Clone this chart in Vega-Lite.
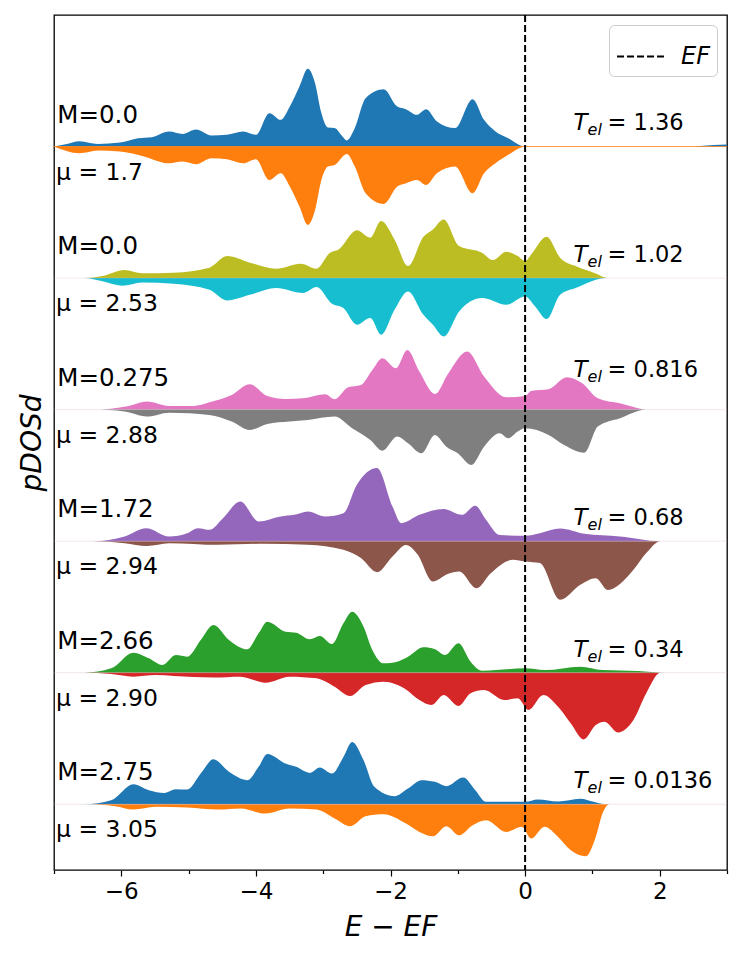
{
  "$schema": "https://vega.github.io/schema/vega-lite/v6.json",
  "description": "pDOS_d spin up / spin down for six electronic temperatures",
  "width": 673,
  "height": 855,
  "autosize": {"type": "none"},
  "padding": {"left": 54, "top": 15, "right": 20, "bottom": 91},
  "datasets": {
    "dos": [
      {"p":1,"s":"u","e":-7,"v":0},{"p":1,"s":"u","e":-6.81,"v":0.2},{"p":1,"s":"u","e":-6.62,"v":0.41},{"p":1,"s":"u","e":-6.35,"v":0.2},{"p":1,"s":"u","e":-6.02,"v":0.3},{"p":1,"s":"u","e":-5.75,"v":0.63},{"p":1,"s":"u","e":-5.55,"v":0.71},{"p":1,"s":"u","e":-5.29,"v":1.14},{"p":1,"s":"u","e":-5.09,"v":0.96},{"p":1,"s":"u","e":-4.89,"v":1.29},{"p":1,"s":"u","e":-4.66,"v":0.84},{"p":1,"s":"u","e":-4.43,"v":0.89},{"p":1,"s":"u","e":-4.19,"v":1.14},{"p":1,"s":"u","e":-4.0,"v":0.89},{"p":1,"s":"u","e":-3.8,"v":2.54},{"p":1,"s":"u","e":-3.63,"v":2.03},{"p":1,"s":"u","e":-3.5,"v":3.0},{"p":1,"s":"u","e":-3.35,"v":4.6},{"p":1,"s":"u","e":-3.23,"v":5.91},{"p":1,"s":"u","e":-3.12,"v":4.8},{"p":1,"s":"u","e":-3.03,"v":2.6},{"p":1,"s":"u","e":-2.93,"v":1.45},{"p":1,"s":"u","e":-2.83,"v":1.4},{"p":1,"s":"u","e":-2.72,"v":0.8},{"p":1,"s":"u","e":-2.65,"v":0.46},{"p":1,"s":"u","e":-2.53,"v":1.4},{"p":1,"s":"u","e":-2.37,"v":3.68},{"p":1,"s":"u","e":-2.1,"v":4.36},{"p":1,"s":"u","e":-1.9,"v":3.04},{"p":1,"s":"u","e":-1.77,"v":2.84},{"p":1,"s":"u","e":-1.61,"v":2.41},{"p":1,"s":"u","e":-1.47,"v":2.84},{"p":1,"s":"u","e":-1.31,"v":1.9},{"p":1,"s":"u","e":-1.04,"v":1.4},{"p":1,"s":"u","e":-0.78,"v":3.6},{"p":1,"s":"u","e":-0.61,"v":2.03},{"p":1,"s":"u","e":-0.44,"v":1.14},{"p":1,"s":"u","e":-0.25,"v":0.63},{"p":1,"s":"u","e":-0.05,"v":0.05},{"p":1,"s":"u","e":0,"v":0},{"p":1,"s":"u","e":2.4,"v":0},{"p":1,"s":"u","e":2.8,"v":0.12},{"p":1,"s":"u","e":3,"v":0.15},

      {"p":1,"s":"d","e":-7,"v":0},{"p":1,"s":"d","e":-6.62,"v":-0.51},{"p":1,"s":"d","e":-6.35,"v":-0.3},{"p":1,"s":"d","e":-6.02,"v":-0.38},{"p":1,"s":"d","e":-5.69,"v":-0.71},{"p":1,"s":"d","e":-5.29,"v":-1.27},{"p":1,"s":"d","e":-5.09,"v":-1.14},{"p":1,"s":"d","e":-4.89,"v":-1.34},{"p":1,"s":"d","e":-4.66,"v":-0.89},{"p":1,"s":"d","e":-4.43,"v":-0.96},{"p":1,"s":"d","e":-4.19,"v":-1.27},{"p":1,"s":"d","e":-4.0,"v":-0.96},{"p":1,"s":"d","e":-3.8,"v":-2.54},{"p":1,"s":"d","e":-3.63,"v":-2.03},{"p":1,"s":"d","e":-3.5,"v":-3.0},{"p":1,"s":"d","e":-3.35,"v":-4.6},{"p":1,"s":"d","e":-3.23,"v":-5.96},{"p":1,"s":"d","e":-3.12,"v":-4.8},{"p":1,"s":"d","e":-3.03,"v":-2.6},{"p":1,"s":"d","e":-2.93,"v":-1.52},{"p":1,"s":"d","e":-2.83,"v":-1.4},{"p":1,"s":"d","e":-2.65,"v":-0.56},{"p":1,"s":"d","e":-2.53,"v":-1.52},{"p":1,"s":"d","e":-2.37,"v":-3.55},{"p":1,"s":"d","e":-2.1,"v":-4.36},{"p":1,"s":"d","e":-1.9,"v":-3.04},{"p":1,"s":"d","e":-1.77,"v":-2.79},{"p":1,"s":"d","e":-1.61,"v":-2.54},{"p":1,"s":"d","e":-1.47,"v":-2.92},{"p":1,"s":"d","e":-1.31,"v":-2.03},{"p":1,"s":"d","e":-1.04,"v":-1.52},{"p":1,"s":"d","e":-0.78,"v":-3.55},{"p":1,"s":"d","e":-0.61,"v":-2.03},{"p":1,"s":"d","e":-0.44,"v":-1.27},{"p":1,"s":"d","e":-0.25,"v":-0.63},{"p":1,"s":"d","e":-0.05,"v":-0.05},{"p":1,"s":"d","e":0,"v":0},{"p":1,"s":"d","e":3,"v":0},

      {"p":2,"s":"u","e":-7,"v":0},{"p":2,"s":"u","e":-6.55,"v":0},{"p":2,"s":"u","e":-6.28,"v":0.15},{"p":2,"s":"u","e":-5.95,"v":0.61},{"p":2,"s":"u","e":-5.69,"v":0.36},{"p":2,"s":"u","e":-5.22,"v":0.41},{"p":2,"s":"u","e":-4.69,"v":0.79},{"p":2,"s":"u","e":-4.43,"v":1.67},{"p":2,"s":"u","e":-4.09,"v":1.17},{"p":2,"s":"u","e":-3.7,"v":0.71},{"p":2,"s":"u","e":-3.33,"v":1.09},{"p":2,"s":"u","e":-3.1,"v":0.71},{"p":2,"s":"u","e":-2.9,"v":1.93},{"p":2,"s":"u","e":-2.77,"v":2.18},{"p":2,"s":"u","e":-2.5,"v":3.63},{"p":2,"s":"u","e":-2.3,"v":3.07},{"p":2,"s":"u","e":-2.14,"v":4.34},{"p":2,"s":"u","e":-1.94,"v":2.94},{"p":2,"s":"u","e":-1.74,"v":0.91},{"p":2,"s":"u","e":-1.51,"v":3.15},{"p":2,"s":"u","e":-1.37,"v":3.7},{"p":2,"s":"u","e":-1.21,"v":4.46},{"p":2,"s":"u","e":-0.98,"v":2.44},{"p":2,"s":"u","e":-0.64,"v":1.93},{"p":2,"s":"u","e":-0.48,"v":1.37},{"p":2,"s":"u","e":-0.28,"v":2.0},{"p":2,"s":"u","e":-0.11,"v":1.67},{"p":2,"s":"u","e":0,"v":1.29},{"p":2,"s":"u","e":0.09,"v":1.8},{"p":2,"s":"u","e":0.32,"v":3.15},{"p":2,"s":"u","e":0.52,"v":1.55},{"p":2,"s":"u","e":0.75,"v":0.91},{"p":2,"s":"u","e":1.02,"v":0.41},{"p":2,"s":"u","e":1.25,"v":0},{"p":2,"s":"u","e":3,"v":0},

      {"p":2,"s":"d","e":-7,"v":0},{"p":2,"s":"d","e":-6.55,"v":0},{"p":2,"s":"d","e":-6.28,"v":-0.25},{"p":2,"s":"d","e":-5.99,"v":-0.58},{"p":2,"s":"d","e":-5.69,"v":-0.33},{"p":2,"s":"d","e":-5.22,"v":-0.43},{"p":2,"s":"d","e":-4.69,"v":-0.89},{"p":2,"s":"d","e":-4.43,"v":-1.7},{"p":2,"s":"d","e":-4.09,"v":-1.27},{"p":2,"s":"d","e":-3.7,"v":-0.76},{"p":2,"s":"d","e":-3.3,"v":-1.14},{"p":2,"s":"d","e":-3.1,"v":-0.68},{"p":2,"s":"d","e":-2.87,"v":-1.95},{"p":2,"s":"d","e":-2.7,"v":-2.28},{"p":2,"s":"d","e":-2.5,"v":-3.55},{"p":2,"s":"d","e":-2.3,"v":-3.04},{"p":2,"s":"d","e":-2.14,"v":-4.31},{"p":2,"s":"d","e":-1.94,"v":-2.41},{"p":2,"s":"d","e":-1.74,"v":-1.02},{"p":2,"s":"d","e":-1.51,"v":-2.79},{"p":2,"s":"d","e":-1.37,"v":-3.55},{"p":2,"s":"d","e":-1.21,"v":-4.44},{"p":2,"s":"d","e":-0.98,"v":-2.54},{"p":2,"s":"d","e":-0.64,"v":-1.52},{"p":2,"s":"d","e":-0.28,"v":-2.03},{"p":2,"s":"d","e":0,"v":-1.4},{"p":2,"s":"d","e":0.15,"v":-2.16},{"p":2,"s":"d","e":0.32,"v":-3.12},{"p":2,"s":"d","e":0.52,"v":-1.27},{"p":2,"s":"d","e":0.75,"v":-0.76},{"p":2,"s":"d","e":1.21,"v":0},{"p":2,"s":"d","e":3,"v":0},

      {"p":3,"s":"u","e":-7,"v":0},{"p":3,"s":"u","e":-6.42,"v":0},{"p":3,"s":"u","e":-5.89,"v":0.28},{"p":3,"s":"u","e":-5.62,"v":0.61},{"p":3,"s":"u","e":-5.29,"v":0.28},{"p":3,"s":"u","e":-4.93,"v":0.28},{"p":3,"s":"u","e":-4.69,"v":0.56},{"p":3,"s":"u","e":-4.36,"v":1.12},{"p":3,"s":"u","e":-4.09,"v":1.93},{"p":3,"s":"u","e":-3.83,"v":1.04},{"p":3,"s":"u","e":-3.56,"v":0.81},{"p":3,"s":"u","e":-3.3,"v":0.86},{"p":3,"s":"u","e":-2.97,"v":1.17},{"p":3,"s":"u","e":-2.83,"v":0.79},{"p":3,"s":"u","e":-2.63,"v":1.7},{"p":3,"s":"u","e":-2.44,"v":1.88},{"p":3,"s":"u","e":-2.27,"v":3.02},{"p":3,"s":"u","e":-2.12,"v":3.91},{"p":3,"s":"u","e":-1.92,"v":3.15},{"p":3,"s":"u","e":-1.75,"v":4.54},{"p":3,"s":"u","e":-1.57,"v":2.89},{"p":3,"s":"u","e":-1.34,"v":1.19},{"p":3,"s":"u","e":-1.14,"v":2.77},{"p":3,"s":"u","e":-0.86,"v":4.41},{"p":3,"s":"u","e":-0.61,"v":2.51},{"p":3,"s":"u","e":-0.28,"v":0.94},{"p":3,"s":"u","e":0,"v":1.04},{"p":3,"s":"u","e":0.09,"v":1.42},{"p":3,"s":"u","e":0.35,"v":1.55},{"p":3,"s":"u","e":0.62,"v":2.46},{"p":3,"s":"u","e":0.85,"v":2.0},{"p":3,"s":"u","e":1.08,"v":0.86},{"p":3,"s":"u","e":1.41,"v":0.48},{"p":3,"s":"u","e":1.84,"v":0},{"p":3,"s":"u","e":3,"v":0},

      {"p":3,"s":"d","e":-7,"v":0},{"p":3,"s":"d","e":-6.42,"v":0},{"p":3,"s":"d","e":-5.95,"v":-0.15},{"p":3,"s":"d","e":-5.62,"v":-0.53},{"p":3,"s":"d","e":-5.29,"v":-0.23},{"p":3,"s":"d","e":-4.69,"v":-0.41},{"p":3,"s":"d","e":-4.36,"v":-0.91},{"p":3,"s":"d","e":-4.09,"v":-1.55},{"p":3,"s":"d","e":-3.83,"v":-1.09},{"p":3,"s":"d","e":-3.5,"v":-0.91},{"p":3,"s":"d","e":-3.23,"v":-0.79},{"p":3,"s":"d","e":-2.83,"v":-0.53},{"p":3,"s":"d","e":-2.57,"v":-1.42},{"p":3,"s":"d","e":-2.3,"v":-2.31},{"p":3,"s":"d","e":-2.12,"v":-3.12},{"p":3,"s":"d","e":-1.9,"v":-2.05},{"p":3,"s":"d","e":-1.74,"v":-2.56},{"p":3,"s":"d","e":-1.54,"v":-3.32},{"p":3,"s":"d","e":-1.34,"v":-1.93},{"p":3,"s":"d","e":-1.17,"v":-2.82},{"p":3,"s":"d","e":-1.0,"v":-3.32},{"p":3,"s":"d","e":-0.8,"v":-4.21},{"p":3,"s":"d","e":-0.61,"v":-2.82},{"p":3,"s":"d","e":-0.38,"v":-1.8},{"p":3,"s":"d","e":-0.25,"v":-2.18},{"p":3,"s":"d","e":-0.11,"v":-1.67},{"p":3,"s":"d","e":0,"v":-1.42},{"p":3,"s":"d","e":0.35,"v":-1.93},{"p":3,"s":"d","e":0.58,"v":-2.69},{"p":3,"s":"d","e":0.88,"v":-3.27},{"p":3,"s":"d","e":1.08,"v":-1.29},{"p":3,"s":"d","e":1.41,"v":-0.66},{"p":3,"s":"d","e":1.8,"v":0},{"p":3,"s":"d","e":3,"v":0},

      {"p":4,"s":"u","e":-7,"v":0},{"p":4,"s":"u","e":-6.42,"v":0},{"p":4,"s":"u","e":-5.95,"v":0.36},{"p":4,"s":"u","e":-5.63,"v":0.99},{"p":4,"s":"u","e":-5.29,"v":0.36},{"p":4,"s":"u","e":-5.02,"v":0.61},{"p":4,"s":"u","e":-4.86,"v":0.99},{"p":4,"s":"u","e":-4.69,"v":0.86},{"p":4,"s":"u","e":-4.49,"v":1.75},{"p":4,"s":"u","e":-4.23,"v":3.02},{"p":4,"s":"u","e":-3.96,"v":1.5},{"p":4,"s":"u","e":-3.63,"v":1.88},{"p":4,"s":"u","e":-3.43,"v":2.0},{"p":4,"s":"u","e":-3.23,"v":2.26},{"p":4,"s":"u","e":-2.97,"v":1.88},{"p":4,"s":"u","e":-2.7,"v":2.13},{"p":4,"s":"u","e":-2.5,"v":4.29},{"p":4,"s":"u","e":-2.2,"v":5.56},{"p":4,"s":"u","e":-1.97,"v":2.64},{"p":4,"s":"u","e":-1.84,"v":1.37},{"p":4,"s":"u","e":-1.57,"v":2.0},{"p":4,"s":"u","e":-1.21,"v":2.44},{"p":4,"s":"u","e":-0.94,"v":2.0},{"p":4,"s":"u","e":-0.74,"v":2.69},{"p":4,"s":"u","e":-0.58,"v":1.62},{"p":4,"s":"u","e":-0.38,"v":0.46},{"p":4,"s":"u","e":0,"v":0.41},{"p":4,"s":"u","e":0.22,"v":0.61},{"p":4,"s":"u","e":0.52,"v":0.96},{"p":4,"s":"u","e":0.88,"v":0.56},{"p":4,"s":"u","e":1.41,"v":0.36},{"p":4,"s":"u","e":2.01,"v":0},{"p":4,"s":"u","e":3,"v":0},

      {"p":4,"s":"d","e":-7,"v":0},{"p":4,"s":"d","e":-6.42,"v":0},{"p":4,"s":"d","e":-5.95,"v":-0.15},{"p":4,"s":"d","e":-5.62,"v":-0.36},{"p":4,"s":"d","e":-5.29,"v":-0.15},{"p":4,"s":"d","e":-4.56,"v":-0.28},{"p":4,"s":"d","e":-3.89,"v":-0.2},{"p":4,"s":"d","e":-3.23,"v":-0.28},{"p":4,"s":"d","e":-2.7,"v":-0.66},{"p":4,"s":"d","e":-2.44,"v":-1.29},{"p":4,"s":"d","e":-2.2,"v":-2.36},{"p":4,"s":"d","e":-1.97,"v":-1.17},{"p":4,"s":"d","e":-1.77,"v":-0.3},{"p":4,"s":"d","e":-1.6,"v":-1.0},{"p":4,"s":"d","e":-1.37,"v":-3.07},{"p":4,"s":"d","e":-1.15,"v":-2.5},{"p":4,"s":"d","e":-0.98,"v":-2.31},{"p":4,"s":"d","e":-0.72,"v":-3.58},{"p":4,"s":"d","e":-0.51,"v":-2.44},{"p":4,"s":"d","e":-0.18,"v":-1.42},{"p":4,"s":"d","e":0,"v":-1.55},{"p":4,"s":"d","e":0.22,"v":-1.67},{"p":4,"s":"d","e":0.52,"v":-4.46},{"p":4,"s":"d","e":0.82,"v":-3.32},{"p":4,"s":"d","e":1.05,"v":-2.82},{"p":4,"s":"d","e":1.23,"v":-3.71},{"p":4,"s":"d","e":1.41,"v":-3.25},{"p":4,"s":"d","e":1.61,"v":-2.18},{"p":4,"s":"d","e":1.8,"v":-0.91},{"p":4,"s":"d","e":2.01,"v":0},{"p":4,"s":"d","e":3,"v":0},

      {"p":5,"s":"u","e":-7,"v":0},{"p":5,"s":"u","e":-6.55,"v":0},{"p":5,"s":"u","e":-6.15,"v":0.33},{"p":5,"s":"u","e":-5.82,"v":1.52},{"p":5,"s":"u","e":-5.59,"v":1.09},{"p":5,"s":"u","e":-5.39,"v":0.58},{"p":5,"s":"u","e":-5.19,"v":1.34},{"p":5,"s":"u","e":-5.02,"v":1.22},{"p":5,"s":"u","e":-4.82,"v":2.49},{"p":5,"s":"u","e":-4.63,"v":3.63},{"p":5,"s":"u","e":-4.4,"v":2.49},{"p":5,"s":"u","e":-4.13,"v":1.78},{"p":5,"s":"u","e":-3.96,"v":2.99},{"p":5,"s":"u","e":-3.83,"v":3.88},{"p":5,"s":"u","e":-3.56,"v":3.12},{"p":5,"s":"u","e":-3.4,"v":3.04},{"p":5,"s":"u","e":-3.2,"v":2.54},{"p":5,"s":"u","e":-3.05,"v":2.79},{"p":5,"s":"u","e":-2.87,"v":2.18},{"p":5,"s":"u","e":-2.7,"v":3.75},{"p":5,"s":"u","e":-2.57,"v":4.64},{"p":5,"s":"u","e":-2.4,"v":3.5},{"p":5,"s":"u","e":-2.27,"v":1.73},{"p":5,"s":"u","e":-2.1,"v":0.71},{"p":5,"s":"u","e":-1.9,"v":0.84},{"p":5,"s":"u","e":-1.74,"v":1.22},{"p":5,"s":"u","e":-1.51,"v":1.93},{"p":5,"s":"u","e":-1.34,"v":1.78},{"p":5,"s":"u","e":-1.19,"v":1.34},{"p":5,"s":"u","e":-0.99,"v":2.23},{"p":5,"s":"u","e":-0.81,"v":0.84},{"p":5,"s":"u","e":-0.64,"v":0.15},{"p":5,"s":"u","e":0,"v":0.33},{"p":5,"s":"u","e":0.29,"v":0.2},{"p":5,"s":"u","e":0.82,"v":0.46},{"p":5,"s":"u","e":1.15,"v":0.2},{"p":5,"s":"u","e":1.68,"v":0.13},{"p":5,"s":"u","e":2.08,"v":0},{"p":5,"s":"u","e":3,"v":0},

      {"p":5,"s":"d","e":-7,"v":0},{"p":5,"s":"d","e":-6.55,"v":0},{"p":5,"s":"d","e":-6.15,"v":-0.1},{"p":5,"s":"d","e":-5.82,"v":-0.3},{"p":5,"s":"d","e":-5.49,"v":-0.18},{"p":5,"s":"d","e":-5.22,"v":-0.25},{"p":5,"s":"d","e":-4.63,"v":-0.36},{"p":5,"s":"d","e":-4.23,"v":-0.3},{"p":5,"s":"d","e":-3.86,"v":-0.76},{"p":5,"s":"d","e":-3.5,"v":-0.3},{"p":5,"s":"d","e":-3.1,"v":-0.43},{"p":5,"s":"d","e":-2.83,"v":-1.07},{"p":5,"s":"d","e":-2.6,"v":-1.78},{"p":5,"s":"d","e":-2.37,"v":-0.94},{"p":5,"s":"d","e":-2.1,"v":-0.68},{"p":5,"s":"d","e":-1.77,"v":-1.27},{"p":5,"s":"d","e":-1.57,"v":-2.08},{"p":5,"s":"d","e":-1.39,"v":-2.46},{"p":5,"s":"d","e":-1.21,"v":-1.7},{"p":5,"s":"d","e":-0.99,"v":-2.54},{"p":5,"s":"d","e":-0.81,"v":-1.57},{"p":5,"s":"d","e":-0.61,"v":-1.32},{"p":5,"s":"d","e":-0.31,"v":-2.08},{"p":5,"s":"d","e":-0.11,"v":-1.95},{"p":5,"s":"d","e":0.05,"v":-2.84},{"p":5,"s":"d","e":0.27,"v":-1.7},{"p":5,"s":"d","e":0.49,"v":-2.59},{"p":5,"s":"d","e":0.68,"v":-3.86},{"p":5,"s":"d","e":0.87,"v":-5.07},{"p":5,"s":"d","e":1.05,"v":-3.98},{"p":5,"s":"d","e":1.18,"v":-3.73},{"p":5,"s":"d","e":1.38,"v":-4.54},{"p":5,"s":"d","e":1.61,"v":-3.6},{"p":5,"s":"d","e":1.8,"v":-1.57},{"p":5,"s":"d","e":2.01,"v":0},{"p":5,"s":"d","e":3,"v":0},

      {"p":6,"s":"u","e":-7,"v":0},{"p":6,"s":"u","e":-6.55,"v":0},{"p":6,"s":"u","e":-6.15,"v":0.3},{"p":6,"s":"u","e":-5.82,"v":1.52},{"p":6,"s":"u","e":-5.59,"v":1.07},{"p":6,"s":"u","e":-5.36,"v":0.86},{"p":6,"s":"u","e":-5.19,"v":1.14},{"p":6,"s":"u","e":-5.02,"v":1.12},{"p":6,"s":"u","e":-4.82,"v":2.33},{"p":6,"s":"u","e":-4.63,"v":3.42},{"p":6,"s":"u","e":-4.4,"v":2.46},{"p":6,"s":"u","e":-4.13,"v":1.83},{"p":6,"s":"u","e":-3.96,"v":2.84},{"p":6,"s":"u","e":-3.83,"v":3.81},{"p":6,"s":"u","e":-3.56,"v":3.09},{"p":6,"s":"u","e":-3.4,"v":2.84},{"p":6,"s":"u","e":-3.2,"v":2.38},{"p":6,"s":"u","e":-3.05,"v":2.79},{"p":6,"s":"u","e":-2.87,"v":2.33},{"p":6,"s":"u","e":-2.7,"v":3.6},{"p":6,"s":"u","e":-2.57,"v":4.74},{"p":6,"s":"u","e":-2.4,"v":3.35},{"p":6,"s":"u","e":-2.24,"v":1.32},{"p":6,"s":"u","e":-1.94,"v":0.61},{"p":6,"s":"u","e":-1.74,"v":1.19},{"p":6,"s":"u","e":-1.54,"v":1.83},{"p":6,"s":"u","e":-1.34,"v":1.7},{"p":6,"s":"u","e":-1.17,"v":1.37},{"p":6,"s":"u","e":-0.92,"v":2.03},{"p":6,"s":"u","e":-0.74,"v":1.07},{"p":6,"s":"u","e":-0.58,"v":0.18},{"p":6,"s":"u","e":0,"v":0.18},{"p":6,"s":"u","e":0.19,"v":0.36},{"p":6,"s":"u","e":0.49,"v":0.2},{"p":6,"s":"u","e":0.82,"v":0.41},{"p":6,"s":"u","e":1.02,"v":0.18},{"p":6,"s":"u","e":1.18,"v":0},{"p":6,"s":"u","e":1.6,"v":0},

      {"p":6,"s":"d","e":-7,"v":0},{"p":6,"s":"d","e":-6.55,"v":0},{"p":6,"s":"d","e":-6.09,"v":-0.15},{"p":6,"s":"d","e":-5.82,"v":-0.41},{"p":6,"s":"d","e":-5.49,"v":-0.2},{"p":6,"s":"d","e":-5.02,"v":-0.25},{"p":6,"s":"d","e":-4.56,"v":-0.41},{"p":6,"s":"d","e":-4.23,"v":-0.33},{"p":6,"s":"d","e":-3.86,"v":-0.71},{"p":6,"s":"d","e":-3.5,"v":-0.33},{"p":6,"s":"d","e":-3.1,"v":-0.41},{"p":6,"s":"d","e":-2.83,"v":-1.09},{"p":6,"s":"d","e":-2.6,"v":-1.67},{"p":6,"s":"d","e":-2.37,"v":-0.91},{"p":6,"s":"d","e":-2.1,"v":-0.76},{"p":6,"s":"d","e":-1.77,"v":-1.47},{"p":6,"s":"d","e":-1.57,"v":-2.11},{"p":6,"s":"d","e":-1.37,"v":-2.44},{"p":6,"s":"d","e":-1.17,"v":-1.67},{"p":6,"s":"d","e":-0.98,"v":-2.36},{"p":6,"s":"d","e":-0.78,"v":-1.6},{"p":6,"s":"d","e":-0.58,"v":-1.22},{"p":6,"s":"d","e":-0.28,"v":-2.11},{"p":6,"s":"d","e":-0.05,"v":-1.72},{"p":6,"s":"d","e":0.09,"v":-2.61},{"p":6,"s":"d","e":0.29,"v":-1.72},{"p":6,"s":"d","e":0.49,"v":-2.49},{"p":6,"s":"d","e":0.68,"v":-3.5},{"p":6,"s":"d","e":0.9,"v":-3.96},{"p":6,"s":"d","e":1.05,"v":-2.49},{"p":6,"s":"d","e":1.15,"v":-0.71},{"p":6,"s":"d","e":1.25,"v":0},{"p":6,"s":"d","e":1.6,"v":0}
    ],
    "panels": [
      {"p":1,"m":"M=0.0","mu":"μ = 1.7","t":"1.36"},
      {"p":2,"m":"M=0.0","mu":"μ = 2.53","t":"1.02"},
      {"p":3,"m":"M=0.275","mu":"μ = 2.88","t":"0.816"},
      {"p":4,"m":"M=1.72","mu":"μ = 2.94","t":"0.68"},
      {"p":5,"m":"M=2.66","mu":"μ = 2.90","t":"0.34"},
      {"p":6,"m":"M=2.75","mu":"μ = 3.05","t":"0.0136"}
    ]
  },
  "layer": [
    {
      "data": {"name": "dos"},
      "transform": [
        {"calculate": "(6 - datum.p) * 10", "as": "base"},
        {"calculate": "datum.base + datum.v", "as": "y"},
        {"calculate": "datum.p + datum.s", "as": "k"}
      ],
      "mark": {"type": "area", "interpolate": "monotone"},
      "encoding": {
        "x": {
          "field": "e",
          "type": "quantitative",
          "scale": {"domain": [-7, 3], "nice": false, "zero": false},
          "axis": {
            "values": [-7, -6.5, -6, -5.5, -5, -4.5, -4, -3.5, -3, -2.5, -2, -1.5, -1, -0.5, 0, 0.5, 1, 1.5, 2, 2.5, 3],
            "format": "d",
            "labelExpr": "datum.value % 2 === 0 ? datum.label : ''",
            "labelOverlap": false,
            "labelFlush": false,
            "tickSize": {"condition": {"test": "datum.value % 2 === 0", "value": 6}, "value": 3.5},
            "tickColor": "black",
            "tickWidth": 1.2,
            "domain": false,
            "grid": false,
            "labelFont": "DejaVu Sans",
            "labelFontSize": 23,
            "labelColor": "black",
            "labelPadding": 4,
            "title": "E − EF",
            "titleFont": "DejaVu Sans",
            "titleFontSize": 28,
            "titleFontStyle": "italic",
            "titleFontWeight": "normal",
            "titleColor": "black",
            "titlePadding": 10
          }
        },
        "y": {
          "field": "y",
          "type": "quantitative",
          "scale": {"domain": [-5, 60], "nice": false, "zero": false},
          "axis": {
            "title": "pDOSd",
            "titleFont": "DejaVu Sans",
            "titleFontSize": 28,
            "titleFontStyle": "italic",
            "titleFontWeight": "normal",
            "titleColor": "black",
            "titlePadding": 8,
            "ticks": false,
            "labels": false,
            "domain": false,
            "grid": false
          }
        },
        "y2": {"field": "base"},
        "color": {
          "field": "k",
          "type": "nominal",
          "scale": {
            "domain": ["1u", "1d", "2u", "2d", "3u", "3d", "4u", "4d", "5u", "5d", "6u", "6d"],
            "range": ["#1f77b4", "#ff7f0e", "#bcbd22", "#17becf", "#e377c2", "#7f7f7f", "#9467bd", "#8c564b", "#2ca02c", "#d62728", "#1f77b4", "#ff7f0e"]
          },
          "legend": null
        }
      }
    },
    {
      "data": {"name": "panels"},
      "transform": [{"calculate": "(6 - datum.p) * 10", "as": "base"}],
      "mark": {"type": "rule", "strokeWidth": 1},
      "encoding": {
        "x": {"datum": -7, "type": "quantitative"},
        "x2": {"datum": 3},
        "y": {"field": "base", "type": "quantitative"},
        "opacity": {"condition": {"test": "datum.p == 1", "value": 0.8}, "value": 0.35},
        "color": {"condition": {"test": "datum.p == 1", "value": "#ff7f0e"}, "value": "#d9b8c8"}
      }
    },
    {
      "data": {"name": "panels"},
      "transform": [{"calculate": "(6 - datum.p) * 10", "as": "base"}],
      "mark": {"type": "text", "align": "left", "baseline": "alphabetic", "dy": -24, "fontSize": 24.5, "font": "DejaVu Sans", "color": "black"},
      "encoding": {
        "x": {"datum": -6.95, "type": "quantitative"},
        "y": {"field": "base", "type": "quantitative"},
        "text": {"field": "m"}
      }
    },
    {
      "data": {"name": "panels"},
      "transform": [{"calculate": "(6 - datum.p) * 10", "as": "base"}],
      "mark": {"type": "text", "align": "left", "baseline": "alphabetic", "dy": 33, "fontSize": 23.5, "font": "DejaVu Sans", "color": "black"},
      "encoding": {
        "x": {"datum": -6.97, "type": "quantitative"},
        "y": {"field": "base", "type": "quantitative"},
        "text": {"field": "mu"}
      }
    },
    {
      "data": {"name": "panels"},
      "transform": [
        {"calculate": "(6 - datum.p) * 10", "as": "base"},
        {"calculate": "datum.base + (datum.p == 3 ? 2.5 : 1.22)", "as": "ty"}
      ],
      "mark": {"type": "text", "align": "left", "baseline": "alphabetic", "fontSize": 23, "font": "DejaVu Sans", "fontStyle": "italic", "color": "black"},
      "encoding": {
        "x": {"datum": 0.72, "type": "quantitative"},
        "y": {"field": "ty", "type": "quantitative"},
        "text": {"value": "T"}
      }
    },
    {
      "data": {"name": "panels"},
      "transform": [
        {"calculate": "(6 - datum.p) * 10", "as": "base"},
        {"calculate": "datum.base + (datum.p == 3 ? 2.5 : 1.22)", "as": "ty"}
      ],
      "mark": {"type": "text", "align": "left", "baseline": "alphabetic", "dx": 14, "dy": 5, "fontSize": 16, "font": "DejaVu Sans", "fontStyle": "italic", "color": "black"},
      "encoding": {
        "x": {"datum": 0.72, "type": "quantitative"},
        "y": {"field": "ty", "type": "quantitative"},
        "text": {"value": "el"}
      }
    },
    {
      "data": {"name": "panels"},
      "transform": [
        {"calculate": "(6 - datum.p) * 10", "as": "base"},
        {"calculate": "datum.base + (datum.p == 3 ? 2.5 : 1.22)", "as": "ty"},
        {"calculate": "'= ' + datum.t", "as": "tl"}
      ],
      "mark": {"type": "text", "align": "left", "baseline": "alphabetic", "dx": 34, "fontSize": 22.5, "font": "DejaVu Sans", "color": "black"},
      "encoding": {
        "x": {"datum": 0.72, "type": "quantitative"},
        "y": {"field": "ty", "type": "quantitative"},
        "text": {"field": "tl"}
      }
    },
    {
      "data": {"values": [{"e": 0, "lab": "EF"}]},
      "mark": {"type": "rule", "strokeWidth": 2, "color": "black"},
      "encoding": {
        "x": {"field": "e", "type": "quantitative"},
        "strokeDash": {
          "field": "lab",
          "type": "nominal",
          "scale": {"range": [[7, 3]]},
          "legend": {
            "title": null,
            "orient": "top-right",
            "offset": 10,
            "padding": 7,
            "fillColor": "white",
            "strokeColor": "#cccccc",
            "cornerRadius": 5,
            "symbolType": "stroke",
            "symbolSize": 2200,
            "symbolStrokeWidth": 2,
            "symbolStrokeColor": "black",
            "labelFont": "DejaVu Sans",
            "labelFontSize": 24,
            "labelFontStyle": "italic",
            "labelColor": "black",
            "labelOffset": 16
          }
        }
      }
    }
  ],
  "config": {
    "background": "white",
    "view": {"stroke": "black", "strokeWidth": 1.3}
  }
}
